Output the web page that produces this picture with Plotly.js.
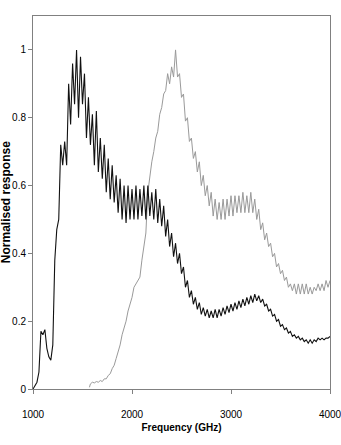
<!DOCTYPE html>
<html>
<head>
<meta charset="utf-8">
<script src="https://cdn.plot.ly/plotly-3.0.1.min.js"></script>
<style>
  html, body { margin: 0; padding: 0; background: #fff; }
  #chart { width: 341px; height: 445px; }
</style>
</head>
<body>
<div id="chart"></div>
<script>
// Sample A (black) - frequency in GHz, normalised response
const freqA = [
  1000, 1020, 1040, 1060, 1080, 1100, 1120, 1140, 1160, 1180,
  1200, 1220, 1240, 1260, 1280, 1300, 1320, 1340, 1360, 1380,
  1400, 1420, 1440, 1460, 1480, 1500, 1520, 1540, 1560, 1580,
  1600, 1620, 1640, 1660, 1680, 1700, 1720, 1740, 1760, 1780,
  1800, 1820, 1840, 1860, 1880, 1900, 1920, 1940, 1960, 1980,
  2000, 2020, 2040, 2060, 2080, 2100, 2120, 2140, 2160, 2180,
  2200, 2220, 2240, 2260, 2280, 2300, 2320, 2340, 2360, 2380,
  2400, 2420, 2440, 2460, 2480, 2500, 2520, 2540, 2560, 2580,
  2600, 2620, 2640, 2660, 2680, 2700, 2720, 2740, 2760, 2780,
  2800, 2820, 2840, 2860, 2880, 2900, 2920, 2940, 2960, 2980,
  3000, 3020, 3040, 3060, 3080, 3100, 3120, 3140, 3160, 3180,
  3200, 3220, 3240, 3260, 3280, 3300, 3320, 3340, 3360, 3380,
  3400, 3420, 3440, 3460, 3480, 3500, 3520, 3540, 3560, 3580,
  3600, 3620, 3640, 3660, 3680, 3700, 3720, 3740, 3760, 3780,
  3800, 3820, 3840, 3860, 3880, 3900, 3920, 3940, 3960, 3980,
  4000
];
const respA = [
  0.00, 0.01, 0.02, 0.05, 0.17, 0.16, 0.175, 0.12, 0.095, 0.085,
  0.13, 0.38, 0.47, 0.50, 0.72, 0.66, 0.73, 0.66, 0.90, 0.78,
  0.96, 0.84, 1.00, 0.80, 0.98, 0.84, 0.93, 0.74, 0.86, 0.72,
  0.81, 0.66, 0.82, 0.64, 0.74, 0.62, 0.72, 0.58, 0.68, 0.56,
  0.66, 0.55, 0.63, 0.52, 0.62, 0.50, 0.60, 0.49, 0.60, 0.50,
  0.59, 0.50, 0.60, 0.50, 0.59, 0.51, 0.60, 0.50, 0.60, 0.51,
  0.58, 0.50, 0.59, 0.49, 0.56, 0.48, 0.54, 0.45, 0.50, 0.42,
  0.46, 0.39, 0.43, 0.37, 0.40, 0.34, 0.36, 0.30, 0.32, 0.27,
  0.29, 0.25, 0.27, 0.235, 0.255, 0.22, 0.24, 0.215, 0.235, 0.21,
  0.23, 0.21, 0.235, 0.21, 0.235, 0.215, 0.24, 0.22, 0.245, 0.225,
  0.25, 0.23, 0.255, 0.235, 0.26, 0.24, 0.265, 0.245, 0.27, 0.25,
  0.275, 0.255, 0.28, 0.26, 0.275, 0.255, 0.265, 0.245, 0.25, 0.23,
  0.235, 0.215, 0.22, 0.20, 0.205, 0.185, 0.19, 0.175, 0.18, 0.165,
  0.17, 0.155, 0.16, 0.15, 0.155, 0.145, 0.15, 0.14, 0.145, 0.135,
  0.145, 0.135, 0.145, 0.14, 0.15, 0.145, 0.15, 0.145, 0.15, 0.15,
  0.155
];

// Sample B (grey)
const freqB = [
  1570, 1580, 1600, 1620, 1640, 1660, 1680, 1700, 1720, 1740,
  1760, 1780, 1800, 1820, 1840, 1860, 1880, 1900, 1920, 1940,
  1960, 1980, 2000, 2020, 2040, 2060, 2080, 2100, 2120, 2140,
  2160, 2180, 2200, 2220, 2240, 2260, 2280, 2300, 2320, 2340,
  2360, 2380, 2400, 2420, 2440, 2460, 2480, 2500, 2520, 2540,
  2560, 2580, 2600, 2620, 2640, 2660, 2680, 2700, 2720, 2740,
  2760, 2780, 2800, 2820, 2840, 2860, 2880, 2900, 2920, 2940,
  2960, 2980, 3000, 3020, 3040, 3060, 3080, 3100, 3120, 3140,
  3160, 3180, 3200, 3220, 3240, 3260, 3280, 3300, 3320, 3340,
  3360, 3380, 3400, 3420, 3440, 3460, 3480, 3500, 3520, 3540,
  3560, 3580, 3600, 3620, 3640, 3660, 3680, 3700, 3720, 3740,
  3760, 3780, 3800, 3820, 3840, 3860, 3880, 3900, 3920, 3940,
  3960, 3980, 4000
];
const respB = [
  0.005, 0.015, 0.02, 0.018, 0.022, 0.02, 0.025, 0.022, 0.03, 0.03,
  0.04, 0.045, 0.06, 0.07, 0.09, 0.11, 0.13, 0.16, 0.18, 0.20,
  0.23, 0.25, 0.27, 0.30, 0.31, 0.32, 0.33, 0.38, 0.42, 0.46,
  0.58, 0.63, 0.67, 0.70, 0.74, 0.76, 0.81, 0.83, 0.87, 0.88,
  0.93, 0.90, 0.95, 0.92, 1.00, 0.92, 0.93, 0.86, 0.87, 0.79,
  0.80, 0.73, 0.74, 0.68, 0.70, 0.64, 0.67, 0.60, 0.63, 0.57,
  0.60, 0.54, 0.58, 0.51, 0.56, 0.50, 0.55, 0.50, 0.56, 0.50,
  0.56, 0.51, 0.57, 0.51, 0.57, 0.52, 0.57, 0.52, 0.58, 0.52,
  0.57, 0.52, 0.58, 0.52, 0.56, 0.50, 0.53, 0.47, 0.49, 0.44,
  0.46, 0.42, 0.43, 0.39, 0.40, 0.36, 0.37, 0.34, 0.35, 0.32,
  0.33, 0.30, 0.31, 0.29, 0.31, 0.28, 0.31, 0.28, 0.31, 0.28,
  0.31, 0.28, 0.30, 0.28, 0.30, 0.29, 0.31, 0.29, 0.31, 0.29,
  0.32, 0.30, 0.32
];

const yTicks = [0, 0.2, 0.4, 0.6, 0.8, 1];
const yTickText = ['0', '0.2', '0.4', '0.6', '0.8', '1'];
const xTicks = [1000, 2000, 3000, 4000];

const narrowFamily = "'Liberation Sans Narrow', 'Liberation Sans', Arial, sans-serif";
const tickFont = { family: narrowFamily, size: 10, color: '#000' };

const traces = [
  {
    type: 'scatter', mode: 'lines', x: freqB, y: respB,
    line: { color: '#9a9a9a', width: 1 },
    hoverinfo: 'skip', showlegend: false
  },
  {
    type: 'scatter', mode: 'lines', x: freqA, y: respA,
    line: { color: '#111111', width: 1.1 },
    hoverinfo: 'skip', showlegend: false
  }
];

const layout = {
  width: 341,
  height: 445,
  margin: { l: 33, r: 11, t: 16, b: 56 },
  paper_bgcolor: '#fff',
  plot_bgcolor: '#fff',
  showlegend: false,
  xaxis: {
    range: [1000, 4000],
    tickvals: xTicks,
    ticks: 'outside', ticklen: 4, tickcolor: '#808080',
    ticklabelstandoff: 12,
    ticklabeloverflow: 'allow',
    showgrid: false, zeroline: false,
    showline: true, linecolor: '#808080', linewidth: 1, mirror: true,
    tickfont: tickFont,
    title: {
      text: 'Frequency (GHz)',
      font: { family: narrowFamily, size: 10, color: '#000', weight: 'bold' }
    }
  },
  yaxis: {
    range: [0, 1.1],
    tickvals: yTicks,
    ticktext: yTickText,
    ticks: 'outside', ticklen: 4, tickcolor: '#808080',
    showgrid: false, zeroline: false,
    showline: true, linecolor: '#808080', linewidth: 1, mirror: true,
    tickfont: tickFont
  },
  annotations: [
    {
      // y axis title, placed by hand so it clears the tick labels
      text: 'Normalised response',
      textangle: -90,
      xref: 'paper', yref: 'paper',
      x: -0.092, y: 0.5,
      xanchor: 'center', yanchor: 'middle',
      showarrow: false,
      font: { family: "'Liberation Sans', Arial, sans-serif", size: 12, color: '#000', weight: 'bold' }
    }
  ]
};

Plotly.newPlot('chart', traces, layout, { staticPlot: true, displayModeBar: false });
</script>
</body>
</html>
